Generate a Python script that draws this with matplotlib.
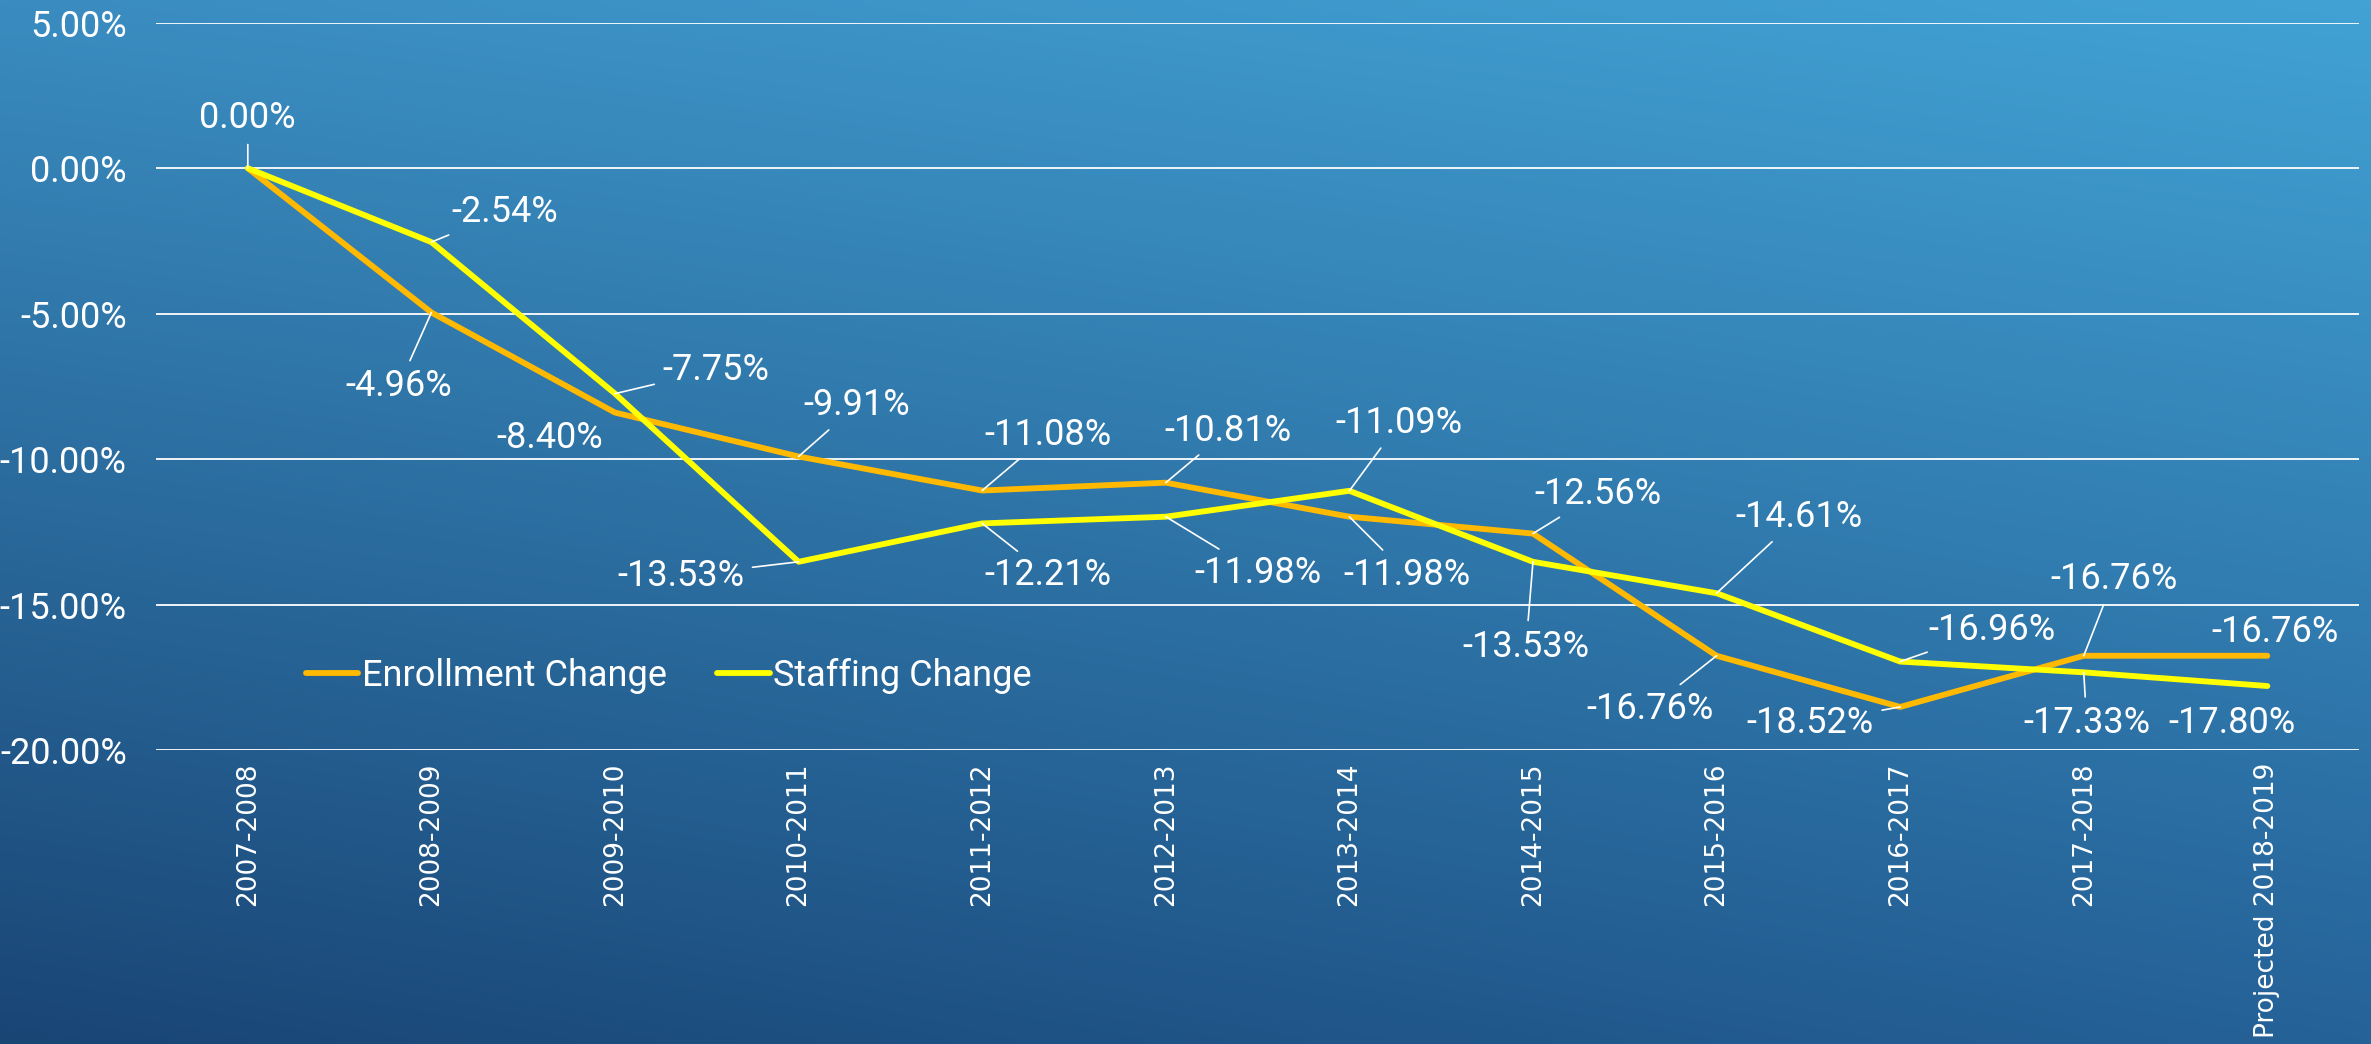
import numpy as np
import matplotlib
matplotlib.use("Agg")
import matplotlib.pyplot as plt
from matplotlib import font_manager as fm

# school years on the x axis
years = ['2007-2008', '2008-2009', '2009-2010', '2010-2011', '2011-2012', '2012-2013',
         '2013-2014', '2014-2015', '2015-2016', '2016-2017', '2017-2018', 'Projected 2018-2019']

# cumulative change since 2007-2008, in percent
enrollment = [0.00, -4.96, -8.40, -9.91, -11.08, -10.81, -11.98, -12.56, -16.76, -18.52, -16.76, -16.76]
staffing = [0.00, -2.54, -7.75, -13.53, -12.21, -11.98, -11.09, -13.53, -14.61, -16.96, -17.33, -17.80]

yticks = [5, 0, -5, -10, -15, -20]

# label placement: (dx, dy) in pixels from the point, and whether a leader line is drawn
enr_offsets = [(0, 50, True), (-33, -74, True), (-65, -25, False), (58, 51, True), (66, 56, True),
               (62, 52, True), (58, -58, True), (65, 40, True), (-67, -53, True), (-90, -16, True),
               (30, 77, True), (8, 24, False)]
staff_offsets = [None, (73, 30, True), (101, 24, True), (-118, -14, True), (66, -52, True),
                 (92, -56, True), (50, 68, True), (-7, -85, True), (82, 76, True), (92, 32, True),
                 (3, -51, True), (-35, -37, False)]

enr_color = '#FFB900'
staff_color = '#FFFF00'

names = {f.name for f in fm.fontManager.ttflist}
narrow = 'Liberation Sans Narrow' if 'Liberation Sans Narrow' in names else 'Roboto'

fig = plt.figure(figsize=(23.71, 10.44), dpi=100)

# gradient background
bg = fig.add_axes([0, 0, 1, 1], zorder=-10)
tl = np.array([0x3a, 0x8c, 0xc0]) / 255
tr = np.array([0x42, 0xa2, 0xd4]) / 255
bl = np.array([0x19, 0x45, 0x75]) / 255
br = np.array([0x25, 0x62, 0x98]) / 255
u = np.linspace(0, 1, 200)[None, :, None]
v = np.linspace(0, 1, 100)[:, None, None]
img = (1 - v) * ((1 - u) * tl + u * tr) + v * ((1 - u) * bl + u * br)
bg.imshow(img, aspect='auto', extent=[0, 1, 0, 1], interpolation='bilinear')
bg.axis('off')

ax = fig.add_axes([0.0658, 0.2816, 0.9292, 0.6966])
ax.patch.set_alpha(0)
x = np.arange(len(years))

ax.plot(x, enrollment, color=enr_color, lw=4.2, label='Enrollment Change', solid_capstyle='round', zorder=3)
ax.plot(x, staffing, color=staff_color, lw=4.2, label='Staffing Change', solid_capstyle='round', zorder=4)

ax.set_xlim(-0.5, len(years) - 0.5)
ax.set_ylim(-20, 5)
ax.set_yticks(yticks)
ax.set_yticklabels(['%.2f%%' % t for t in yticks], fontsize=26, color='white', family=narrow)
ax.set_xticks(x)
ax.set_xticklabels(years, rotation=90, fontsize=19, color='white', family='DejaVu Sans', va='top')
ax.tick_params(axis='y', length=0, pad=21)
ax.tick_params(axis='x', length=0, pad=9)
ax.grid(axis='y', color='white', lw=1.3)
ax.set_axisbelow(True)
for s in ax.spines.values():
    s.set_visible(False)


def add_labels(values, offsets):
    for i, (val, off) in enumerate(zip(values, offsets)):
        if off is None:
            continue
        dx, dy, leader = off
        arrow = None
        if leader:
            arrow = dict(arrowstyle='-', color='white', lw=1.2, shrinkA=4, shrinkB=0)
        ax.annotate('%.2f%%' % val, xy=(i, val), xytext=(dx, dy), textcoords='offset pixels',
                    ha='center', va='center', fontsize=26, color='white', family=narrow,
                    arrowprops=arrow, zorder=5)


add_labels(enrollment, enr_offsets)
add_labels(staffing, staff_offsets)

leg = ax.legend(loc='center left', bbox_to_anchor=(0.068, 0.102), ncol=2, frameon=False,
                handlelength=1.45, handletextpad=0.1, columnspacing=1.4, borderpad=0,
                borderaxespad=0, prop={'family': narrow, 'size': 26})
for t in leg.get_texts():
    t.set_color('white')

fig.savefig('out.png', dpi=100)
